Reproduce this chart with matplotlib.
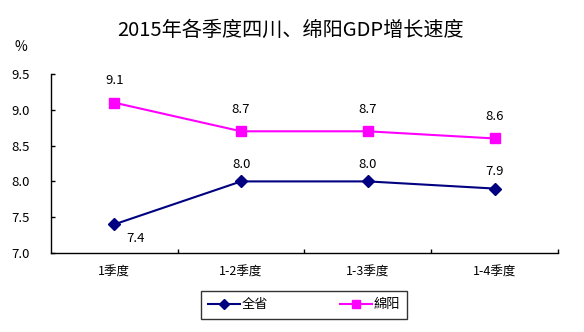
import matplotlib.pyplot as plt

plt.rcParams['font.family'] = ['Noto Sans CJK SC', 'DejaVu Sans']

quarters = ['1季度', '1-2季度', '1-3季度', '1-4季度']
sichuan = [7.4, 8.0, 8.0, 7.9]
mianyang = [9.1, 8.7, 8.7, 8.6]

navy = '#000080'
pink = '#FF00FF'

fig = plt.figure(figsize=(5.84, 3.32), dpi=100)
ax = fig.add_axes([0.0873, 0.238, 0.868, 0.539])

x = list(range(len(quarters)))
ax.plot(x, sichuan, color=navy, lw=1.5, marker='D', ms=6, label='全省')
ax.plot(x, mianyang, color=pink, lw=1.5, marker='s', ms=7.5, label='綿阳')

# 数据标签
lbl_font = 9.5
for i, v in enumerate(sichuan):
    if i == 0:
        ax.annotate(f'{v:.1f}', (i, v), xytext=(15, -10), textcoords='offset points',
                    ha='center', va='center', fontsize=lbl_font)
    else:
        ax.annotate(f'{v:.1f}', (i, v), xytext=(0, 12), textcoords='offset points',
                    ha='center', va='center', fontsize=lbl_font)
for i, v in enumerate(mianyang):
    ax.annotate(f'{v:.1f}', (i, v), xytext=(0, 16), textcoords='offset points',
                ha='center', va='center', fontsize=lbl_font)

ax.set_xlim(-0.5, 3.5)
ax.set_ylim(7.0, 9.5)
ax.set_yticks([7.0, 7.5, 8.0, 8.5, 9.0, 9.5])
ax.set_yticklabels([f'{t:.1f}' for t in ax.get_yticks()], fontsize=9.5)
ax.set_xticks(x)
ax.set_xticklabels(quarters, fontsize=9)
ax.set_xticks([0.5, 1.5, 2.5, 3.5], minor=True)
ax.tick_params(axis='x', which='major', length=0, pad=9)
ax.tick_params(axis='x', which='minor', direction='in', length=3, width=1)
ax.tick_params(axis='y', direction='in', length=3, width=1, pad=15)
ax.spines['top'].set_visible(False)
ax.spines['right'].set_visible(False)
for s in ('left', 'bottom'):
    ax.spines[s].set_linewidth(1)
    ax.spines[s].set_color('black')

fig.text(0.497, 0.91, '2015年各季度四川、绵阳GDP增长速度', ha='center', va='center', fontsize=14.5)
fig.text(0.036, 0.858, '%', ha='center', va='center', fontsize=10)

leg = fig.legend(loc='center', bbox_to_anchor=(0.5205, 0.082), ncol=2, fontsize=9.5,
                 frameon=True, fancybox=False, edgecolor='black', borderpad=0.55,
                 columnspacing=5.5, handlelength=2.4, handletextpad=0.1, markerscale=0.85)
leg.get_frame().set_linewidth(1)

fig.savefig('out.png', dpi=100)
